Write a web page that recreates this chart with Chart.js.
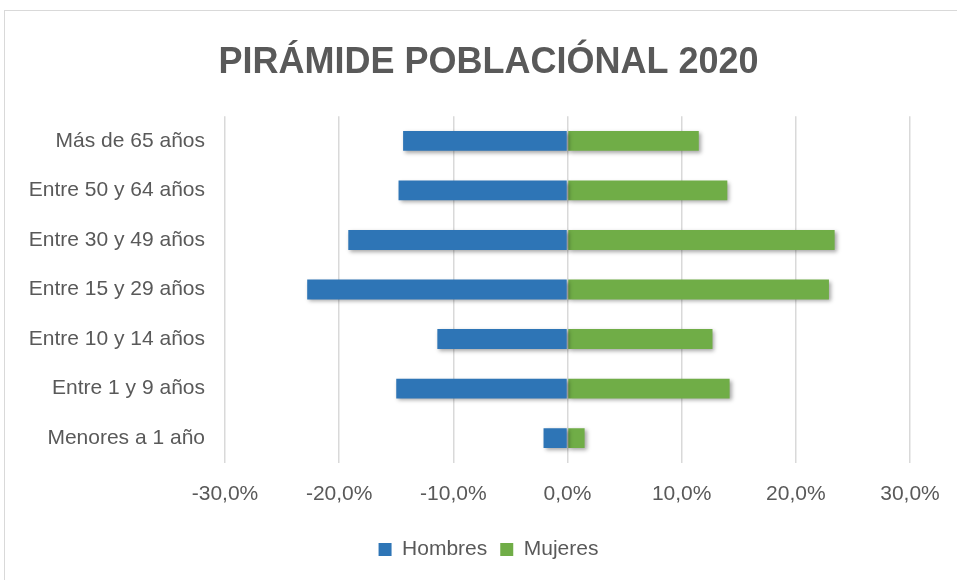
<!DOCTYPE html>
<html lang="es">
<head>
  <meta charset="UTF-8" />
  <title>Pirámide poblaciónal 2020</title>
  <script src="https://cdn.jsdelivr.net/npm/chart.js"></script>
  <style>
    body {
      margin: 0;
      background: #fff;
      overflow: hidden;
    }
    .frame {
      position: absolute;
      left: 4px;
      top: 10px;
      width: 960px;
      height: 600px;
      border: 1px solid #d9d9d9;
    }
    #pyramid {
      position: absolute;
      left: 0;
      top: 0;
    }
  </style>
</head>
<body>
  <div class="frame"></div>
  <canvas id="pyramid" width="957" height="580"></canvas>

  <script>
    const grupos = ['Más de 65 años', 'Entre 50 y 64 años', 'Entre 30 y 49 años', 'Entre 15 y 29 años',
                    'Entre 10 y 14 años', 'Entre 1 y 9 años', 'Menores a 1 año'];
    const hombres = [-14.4, -14.8, -19.2, -22.8, -11.4, -15.0, -2.1];
    const mujeres = [11.5, 14.0, 23.4, 22.9, 12.7, 14.2, 1.5];
    const ejeMin = -30, ejeMax = 30, ejePaso = 10;

    const FONT = "'Liberation Sans', Arial, sans-serif";
    const GRIS = '#595959';

    // sombra suave bajo las barras, como en Excel
    const sombra = {
      id: 'sombra',
      beforeDatasetsDraw(chart) {
        const ctx = chart.ctx;
        ctx.save();
        ctx.shadowColor = 'rgba(0,0,0,0.35)';
        ctx.shadowBlur = 4;
        ctx.shadowOffsetX = 2;
        ctx.shadowOffsetY = 2;
      },
      afterDatasetsDraw(chart) {
        chart.ctx.restore();
      }
    };

    new Chart(document.getElementById('pyramid'), {
      type: 'bar',
      data: {
        labels: grupos,
        datasets: [
          { label: 'Hombres', data: hombres, backgroundColor: '#2E75B6', barPercentage: 0.4, categoryPercentage: 1 },
          { label: 'Mujeres', data: mujeres, backgroundColor: '#70AD47', barPercentage: 0.4, categoryPercentage: 1 }
        ]
      },
      options: {
        indexAxis: 'y',
        animation: false,
        responsive: false,
        devicePixelRatio: 1,
        layout: { padding: { left: 20, right: 0, top: 26, bottom: 10 } },
        scales: {
          x: {
            stacked: true,
            min: ejeMin,
            max: ejeMax,
            ticks: {
              stepSize: ejePaso,
              color: GRIS,
              font: { family: FONT, size: 21 },
              padding: 19,
              callback: v => v.toFixed(1).replace('.', ',') + '%'
            },
            grid: { color: '#d9d9d9', lineWidth: 1.5, drawTicks: false },
            border: { display: false },
            // deja el margen derecho del área de trazado como en el original
            afterFit: scale => { scale.paddingRight = 47; }
          },
          y: {
            stacked: true,
            ticks: {
              color: GRIS,
              font: { family: FONT, size: 21 },
              padding: 12
            },
            grid: { display: false },
            border: { display: false },
            afterFit: scale => { scale.width = 205; }
          }
        },
        plugins: {
          title: {
            display: true,
            text: 'PIRÁMIDE POBLACIÓNAL 2020',
            color: GRIS,
            font: { family: FONT, size: 36, weight: 'bold' },
            padding: { top: 15, bottom: 32 }
          },
          legend: {
            position: 'bottom',
            labels: {
              color: GRIS,
              font: { family: FONT, size: 21 },
              boxWidth: 13,
              boxHeight: 13,
              padding: 13
            }
          },
          tooltip: {
            callbacks: {
              label: c => `${c.dataset.label}: ${Math.abs(c.parsed.x).toFixed(1).replace('.', ',')}%`
            }
          }
        }
      },
      plugins: [sombra]
    });
  </script>
</body>
</html>
